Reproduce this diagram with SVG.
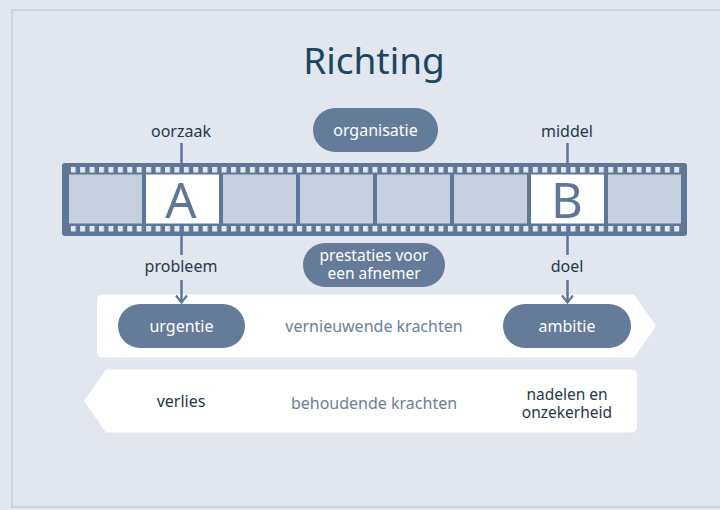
<svg xmlns="http://www.w3.org/2000/svg" width="720" height="510" viewBox="0 0 720 510">
  <defs>
    <style>
      text { font-family: "Noto Sans", "Open Sans", sans-serif; }
      .lbl { font-size: 16px; fill: #23394c; text-anchor: middle; }
      .lbl2 { font-size: 15.5px; fill: #23394c; text-anchor: middle; }
      .pilltxt { font-size: 16px; fill: #ffffff; text-anchor: middle; }
      .pilltxt2 { font-size: 15.5px; fill: #ffffff; text-anchor: middle; }
      .muted { font-size: 16px; fill: #6b809c; text-anchor: middle; }
      .pill { fill: #647c9a; }
      .frame { fill: #c6cfdd; }
      .frame-w { fill: #ffffff; }
      .big { font-size: 49px; fill: #5e7797; text-anchor: middle; }
      .conn { stroke: #5e7797; stroke-width: 2.5; fill: none; }
      .head { stroke: #5e7797; stroke-width: 2.2; fill: none; stroke-linejoin: miter; }
    </style>
    <pattern id="holes" patternUnits="userSpaceOnUse" x="70.7" y="167" width="9.43" height="100">
      <rect x="0" y="0" width="5" height="5.5" fill="#e3e8f0"/>
      <rect x="0" y="59" width="5" height="5.5" fill="#e3e8f0"/>
    </pattern>
  </defs>

  <rect x="0" y="0" width="720" height="510" fill="#e1e6ef"/>
  <rect x="12" y="10" width="720" height="497" fill="#e1e6ef" stroke="#cad3e1" stroke-width="2"/>

  <g id="title">
    <text x="374" y="74" fill="#1b4560" text-anchor="middle" style="font-size:37px">Richting</text>
  </g>

  <g id="band-vernieuwend">
    <path d="M103,294.5 L634,294.5 L656,326 L634,357.5 L103,357.5 Q97,357.5 97,351.5 L97,300.5 Q97,294.5 103,294.5 Z" fill="#ffffff"/>
    <text class="muted" x="374" y="332">vernieuwende krachten</text>
  </g>

  <g id="band-behoudend">
    <path d="M106,369.5 L631,369.5 Q637,369.5 637,375.5 L637,426.5 Q637,432.5 631,432.5 L106,432.5 L84,401 Z" fill="#ffffff"/>
    <text class="muted" x="374" y="409">behoudende krachten</text>
  </g>

  <g id="connectors">
    <line class="conn" x1="181.5" y1="143" x2="181.5" y2="164"/>
    <line class="conn" x1="567.5" y1="143" x2="567.5" y2="164"/>
    <line class="conn" x1="181.5" y1="235" x2="181.5" y2="255"/>
    <line class="conn" x1="567.5" y1="235" x2="567.5" y2="255"/>
    <line class="conn" x1="181.5" y1="280" x2="181.5" y2="302"/>
    <polyline class="head" points="176,295.5 181.5,302.5 187,295.5"/>
    <line class="conn" x1="567.5" y1="280" x2="567.5" y2="302"/>
    <polyline class="head" points="562,295.5 567.5,302.5 573,295.5"/>
  </g>

  <g id="filmstrip">
    <rect x="62" y="163" width="625" height="73" rx="3" fill="#5e7797"/>
    <rect x="70.7" y="167" width="609" height="65" fill="url(#holes)"/>
    <rect class="frame" x="69" y="174.5" width="73" height="49"/>
    <rect class="frame-w" x="146" y="174.5" width="73" height="49"/>
    <rect class="frame" x="223" y="174.5" width="73" height="49"/>
    <rect class="frame" x="300" y="174.5" width="73" height="49"/>
    <rect class="frame" x="377" y="174.5" width="73" height="49"/>
    <rect class="frame" x="454" y="174.5" width="73" height="49"/>
    <rect class="frame-w" x="531" y="174.5" width="73" height="49"/>
    <rect class="frame" x="608" y="174.5" width="73" height="49"/>
  </g>
  <g id="node-A">
    <text class="big" x="181" y="218">A</text>
  </g>
  <g id="node-B">
    <text class="big" x="567" y="218">B</text>
  </g>

  <g id="label-oorzaak"><text class="lbl" x="181" y="137">oorzaak</text></g>
  <g id="label-middel"><text class="lbl" x="567" y="137">middel</text></g>
  <g id="label-probleem"><text class="lbl" x="181" y="272">probleem</text></g>
  <g id="label-doel"><text class="lbl" x="567" y="272">doel</text></g>

  <g id="node-organisatie">
    <rect class="pill" x="313" y="108" width="125" height="44" rx="22"/>
    <text class="pilltxt" x="375.5" y="136">organisatie</text>
  </g>

  <g id="node-prestaties">
    <rect class="pill" x="303" y="243" width="142" height="44" rx="22"/>
    <text class="pilltxt2" x="374" y="261">prestaties voor</text>
    <text class="pilltxt2" x="374" y="278.5">een afnemer</text>
  </g>

  <g id="node-urgentie">
    <rect class="pill" x="118" y="304" width="127" height="44" rx="22"/>
    <text class="pilltxt" x="181.5" y="332">urgentie</text>
  </g>
  <g id="node-ambitie">
    <rect class="pill" x="503" y="304" width="128" height="44" rx="22"/>
    <text class="pilltxt" x="567" y="332">ambitie</text>
  </g>

  <g id="node-verlies">
    <text class="lbl" x="181" y="407">verlies</text>
  </g>
  <g id="node-nadelen">
    <text class="lbl2" x="567" y="400">nadelen en</text>
    <text class="lbl2" x="567" y="417.5">onzekerheid</text>
  </g>
</svg>
